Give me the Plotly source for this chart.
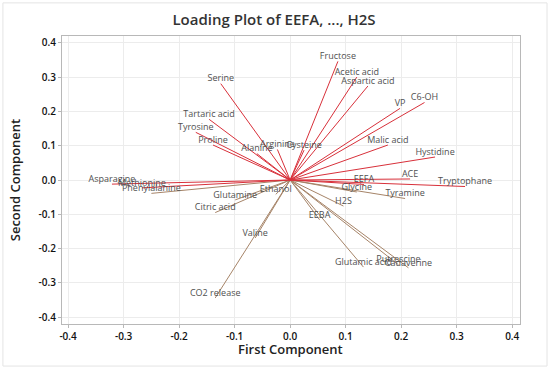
import plotly.graph_objects as go

variables = ["Fructose", "Acetic acid", "Aspartic acid", "VP", "C6-OH", "Malic acid",
             "Hystidine", "ACE", "Tryptophane", "EEFA", "Glycine", "Tyramine", "H2S",
             "EEBA", "Glutamic acid", "Putrescine", "Cadaverine", "Serine", "Tartaric acid",
             "Tyrosine", "Proline", "Alanine", "Arginine", "Cysteine", "Asparagine",
             "Methionine", "Phenylalanine", "Glutamine", "Ethanol", "Citric acid", "Valine",
             "CO2 release"]
pc1 = [0.086, 0.120, 0.140, 0.198, 0.242, 0.176,
       0.261, 0.216, 0.315, 0.133, 0.120, 0.207, 0.096,
       0.053, 0.132, 0.195, 0.213, -0.125, -0.146,
       -0.170, -0.139, -0.060, -0.023, 0.025, -0.321,
       -0.267, -0.250, -0.099, -0.026, -0.135, -0.063,
       -0.135]
pc2 = [0.346, 0.300, 0.274, 0.209, 0.226, 0.102,
       0.067, 0.003, -0.019, -0.013, -0.035, -0.054, -0.076,
       -0.116, -0.254, -0.247, -0.256, 0.281, 0.177,
       0.139, 0.102, 0.077, 0.089, 0.087, -0.012,
       -0.023, -0.039, -0.058, -0.042, -0.095, -0.169,
       -0.344]
ticks = [-0.4, -0.3, -0.2, -0.1, 0.0, 0.1, 0.2, 0.3, 0.4]

RED = "#d8303a"
BROWN = "#a68468"

fig = go.Figure()
for col, cond in [(BROWN, lambda y: y < -0.03), (RED, lambda y: y >= -0.03)]:
    xs, ys = [], []
    for x, y in zip(pc1, pc2):
        if cond(y):
            xs += [0, x, None]
            ys += [0, y, None]
    fig.add_trace(go.Scatter(x=xs, y=ys, mode="lines", line=dict(color=col, width=1),
                             hoverinfo="skip", showlegend=False))

fig.add_trace(go.Scatter(x=pc1, y=pc2, mode="text", text=variables,
                         textposition="top center",
                         textfont=dict(family="Open Sans", size=9, color="#505050"),
                         showlegend=False))

axis_common = dict(tickvals=ticks, ticktext=[f"{t:.1f}" for t in ticks],
                   showgrid=True, gridcolor="#ececec", gridwidth=1, automargin=False,
                   zeroline=False, showline=True, linecolor="#b8b8b8", linewidth=1,
                   mirror=True, ticks="outside", ticklen=3, tickcolor="#b8b8b8",
                   tickfont=dict(family="Open Sans", size=10, color="#111111", weight=600))

fig.update_xaxes(range=[-0.411, 0.414], **axis_common)
fig.update_yaxes(range=[-0.42, 0.42],
                 title=dict(text="Second Component",
                            font=dict(family="Open Sans", size=13, color="#222222", weight=600)),
                 **axis_common)

fig.update_layout(
    width=550, height=370,
    margin=dict(l=62, r=30, t=36, b=46),
    paper_bgcolor="white", plot_bgcolor="white",
    title=dict(text="Loading Plot of EEFA, ..., H2S", x=0.463, xanchor="center",
               xref="paper", y=0.946, yanchor="middle",
               font=dict(family="Open Sans", size=15, color="#333333", weight=600)),
    annotations=[dict(text="First Component", xref="paper", yref="paper",
                      x=0.498, y=-0.087, xanchor="center", yanchor="middle", showarrow=False,
                      font=dict(family="Open Sans", size=13, color="#222222", weight=600))],
    shapes=[dict(type="rect", xref="paper", yref="paper", x0=-0.129, x1=1.059,
                 y0=-0.146, y1=1.115, line=dict(color="#e4e4e4", width=1))],
)

fig.write_html("out.html", config={"displayModeBar": False},
               post_script="document.body.style.margin='0';document.body.style.overflow='hidden';")
